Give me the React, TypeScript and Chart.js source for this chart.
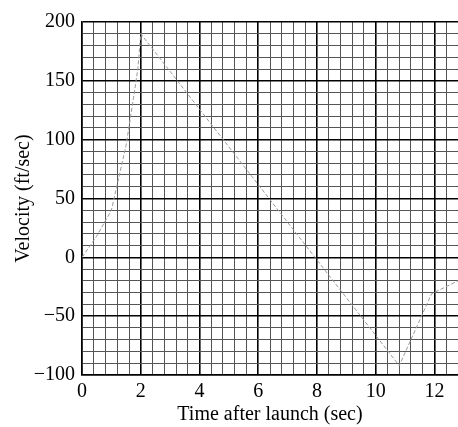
import React, { useEffect, useRef } from "react";
import { Chart, registerables } from "chart.js";

Chart.register(...registerables);

const times = [0, 0.5, 1, 1.5, 1.75, 1.9, 2, 10.8, 11.9, 12.8];
const velocities = [0, 18, 40, 95, 135, 160, 190, -92, -31, -20];
const xLabelValues = [0, 2, 4, 6, 8, 10, 12];
const yLabelValues = [-100, -50, 0, 50, 100, 150, 200];
const xTitle = "Time after launch (sec)";
const yTitle = "Velocity (ft/sec)";

const FONT = "'Liberation Serif', 'DejaVu Serif', serif";

function isMajorX(v: number) {
  return xLabelValues.some((t) => Math.abs(t - v) < 1e-6);
}
function isMajorY(v: number) {
  return yLabelValues.some((t) => Math.abs(t - v) < 1e-6);
}
function fmt(v: number) {
  return v < 0 ? "\u2212" + Math.abs(v) : String(v);
}

export default function App() {
  const ref = useRef<HTMLCanvasElement | null>(null);
  useEffect(() => {
    if (!ref.current) return;
    const chart = new Chart(ref.current, {
      type: "line",
      data: {
        datasets: [
          {
            data: times.map((t, i) => ({ x: t, y: velocities[i] })),
            borderColor: "#9a9a9a",
            borderWidth: 1,
            borderDash: [4, 2],
            pointRadius: 0,
            tension: 0,
          },
        ],
      },
      options: {
        animation: false,
        responsive: true,
        maintainAspectRatio: false,
        layout: { padding: { top: 22, right: 0, left: 0, bottom: 0 } },
        plugins: { legend: { display: false }, tooltip: { enabled: false } },
        scales: {
          x: {
            type: "linear",
            min: 0,
            max: 12.8,
            afterFit: (s: any) => {
              s.height = 52;
              s.paddingRight = 0;
              s.paddingLeft = 0;
            },
            ticks: {
              stepSize: 0.4,
              autoSkip: false,
              maxRotation: 0,
              padding: 5,
              color: "#000",
              font: { family: FONT, size: 20 },
              callback: (v: any) => (isMajorX(Number(v)) ? fmt(Math.round(Number(v))) : ""),
            },
            grid: {
              drawTicks: false,
              color: (c: any) => (isMajorX(c.tick?.value ?? 0) ? "#000" : "#555"),
              lineWidth: (c: any) => (isMajorX(c.tick?.value ?? 0) ? 1.6 : 1),
            },
            border: { color: "#000", width: 1.5 },
            title: {
              display: true,
              text: xTitle,
              color: "#000",
              font: { family: FONT, size: 20 },
              padding: { top: 0, bottom: 0 },
            },
          },
          y: {
            type: "linear",
            min: -100,
            max: 200,
            afterFit: (s: any) => {
              s.width = 82;
            },
            ticks: {
              stepSize: 10,
              autoSkip: false,
              padding: 7,
              color: "#000",
              font: { family: FONT, size: 20 },
              callback: (v: any) => (isMajorY(Number(v)) ? fmt(Math.round(Number(v))) : ""),
            },
            grid: {
              drawTicks: false,
              color: (c: any) => (isMajorY(c.tick?.value ?? 0) ? "#000" : "#555"),
              lineWidth: (c: any) => (isMajorY(c.tick?.value ?? 0) ? 1.6 : 1),
            },
            border: { color: "#000", width: 1.5 },
            title: {
              display: true,
              text: yTitle,
              color: "#000",
              font: { family: FONT, size: 20 },
              padding: { top: 12, bottom: 0 },
            },
          },
        },
      },
    });
    return () => chart.destroy();
  }, []);
  return (
    <div style={{ position: "absolute", left: 0, top: 0, width: 458, height: 427, background: "#fff" }}>
      <canvas ref={ref} />
    </div>
  );
}
